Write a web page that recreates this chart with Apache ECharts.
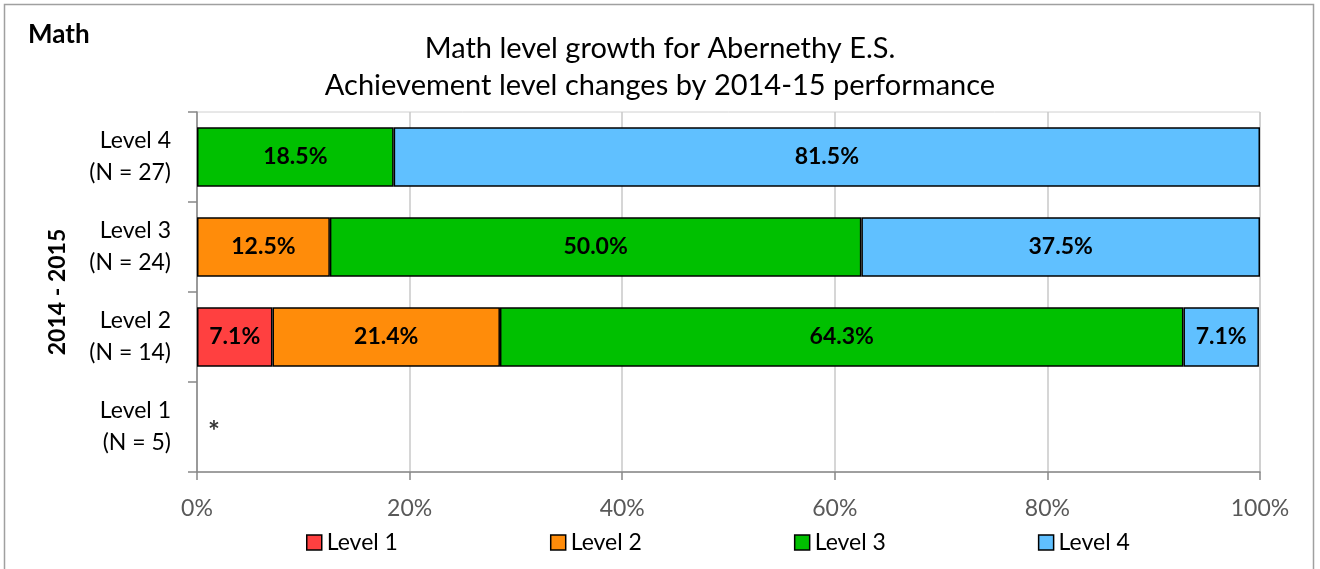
<!DOCTYPE html>
<html>
<head>
<meta charset="utf-8">
<script src="https://cdn.jsdelivr.net/npm/echarts@6/dist/echarts.min.js"></script>
<style>
html,body{margin:0;padding:0;background:#fff;}
#chart{width:1320px;height:569px;}
</style>
</head>
<body>
<div id="chart"></div>
<script>
// Categories, bottom to top
const categories = ['Level 1\n(N = 5)', 'Level 2\n(N = 14)', 'Level 3\n(N = 24)', 'Level 4\n(N = 27)'];
const seriesNames = ['Level 1', 'Level 2', 'Level 3', 'Level 4'];
const level1 = [null, 7.1, null, null];
const level2 = [null, 21.4, 12.5, null];
const level3 = [null, 64.3, 50.0, 18.5];
const level4 = [null, 7.1, 37.5, 81.5];
const suppressedNote = [[0, 'Level 1\n(N = 5)', '*']];
const xTicks = [0, 20, 40, 60, 80, 100];
const colors = ['#FF4040', '#FF8C0A', '#00C000', '#60C0FF'];

const FONT = 'Lato, "Open Sans", sans-serif';
const chart = echarts.init(document.getElementById('chart'), null, {renderer: 'canvas'});

function barSeries(name, data, color) {
  return {
    name: name,
    type: 'bar',
    stack: 'total',
    data: data,
    barCategoryGap: '34%',
    itemStyle: {color: color, borderColor: '#000', borderWidth: 1.5},
    label: {
      show: true,
      position: 'inside',
      formatter: p => p.value == null ? '' : p.value.toFixed(1) + '%',
      color: '#000',
      fontFamily: FONT,
      fontWeight: 'bold',
      fontSize: 23
    },
    emphasis: {disabled: true}
  };
}

chart.setOption({
  animation: false,
  backgroundColor: '#fff',
  textStyle: {fontFamily: FONT},
  graphic: [{
    type: 'rect',
    shape: {x: 4.5, y: 4.5, width: 1309, height: 580},
    style: {fill: 'none', stroke: '#A0A0A0', lineWidth: 1.5},
    silent: true
  }],
  title: [{
    text: 'Math',
    left: 23, top: 17,
    textStyle: {fontFamily: FONT, fontWeight: 'bold', fontSize: 26, color: '#000'}
  }, {
    text: 'Math level growth for Abernethy E.S.\nAchievement level changes by 2014-15 performance',
    left: 'center', top: 25,
    textStyle: {fontFamily: FONT, fontWeight: 'normal', fontSize: 29, lineHeight: 37, color: '#000'}
  }],
  legend: {
    data: seriesNames,
    bottom: 10,
    left: 301,
    itemWidth: 15, itemHeight: 15,
    itemGap: 152,
    icon: 'rect',
    textStyle: {fontFamily: FONT, fontSize: 23, color: '#000', padding: [0, 0, 0, 0]},
    itemStyle: {borderColor: '#000', borderWidth: 1.5}
  },
  grid: {left: 197, right: 60, top: 112, bottom: 97, containLabel: false, show: true, borderColor: '#D0D0D0', borderWidth: 1},
  xAxis: {
    type: 'value',
    min: 0, max: 100, interval: 20,
    axisLabel: {formatter: v => v + '%', fontFamily: FONT, fontSize: 23, color: '#595959', margin: 25},
    axisLine: {show: true, lineStyle: {color: '#888', width: 1.5}},
    axisTick: {show: true, length: 8, lineStyle: {color: '#888', width: 1.5}},
    splitLine: {show: true, lineStyle: {color: '#C8C8C8', width: 1.5}}
  },
  yAxis: {
    type: 'category',
    data: categories,
    name: '2014 - 2015',
    nameLocation: 'middle',
    nameRotate: 90,
    nameGap: 128,
    nameTextStyle: {fontFamily: FONT, fontWeight: 'bold', fontSize: 23, color: '#000'},
    axisLabel: {fontFamily: FONT, fontSize: 23, color: '#000', lineHeight: 32, margin: 26, align: 'right'},
    axisLine: {show: true, lineStyle: {color: '#888', width: 1.5}},
    axisTick: {show: true, length: 9, lineStyle: {color: '#888', width: 1.5}}
  },
  series: [
    barSeries(seriesNames[0], level1, colors[0]),
    barSeries(seriesNames[1], level2, colors[1]),
    barSeries(seriesNames[2], level3, colors[2]),
    barSeries(seriesNames[3], level4, colors[3]),
    {
      name: 'note',
      type: 'scatter',
      data: suppressedNote,
      symbolSize: 0,
      silent: true,
      label: {
        show: true, position: 'right', distance: 11, offset: [0, 5],
        formatter: p => p.data[2],
        fontFamily: FONT, fontWeight: 'bold', fontSize: 28, color: '#000'
      }
    }
  ]
});
</script>
</body>
</html>
